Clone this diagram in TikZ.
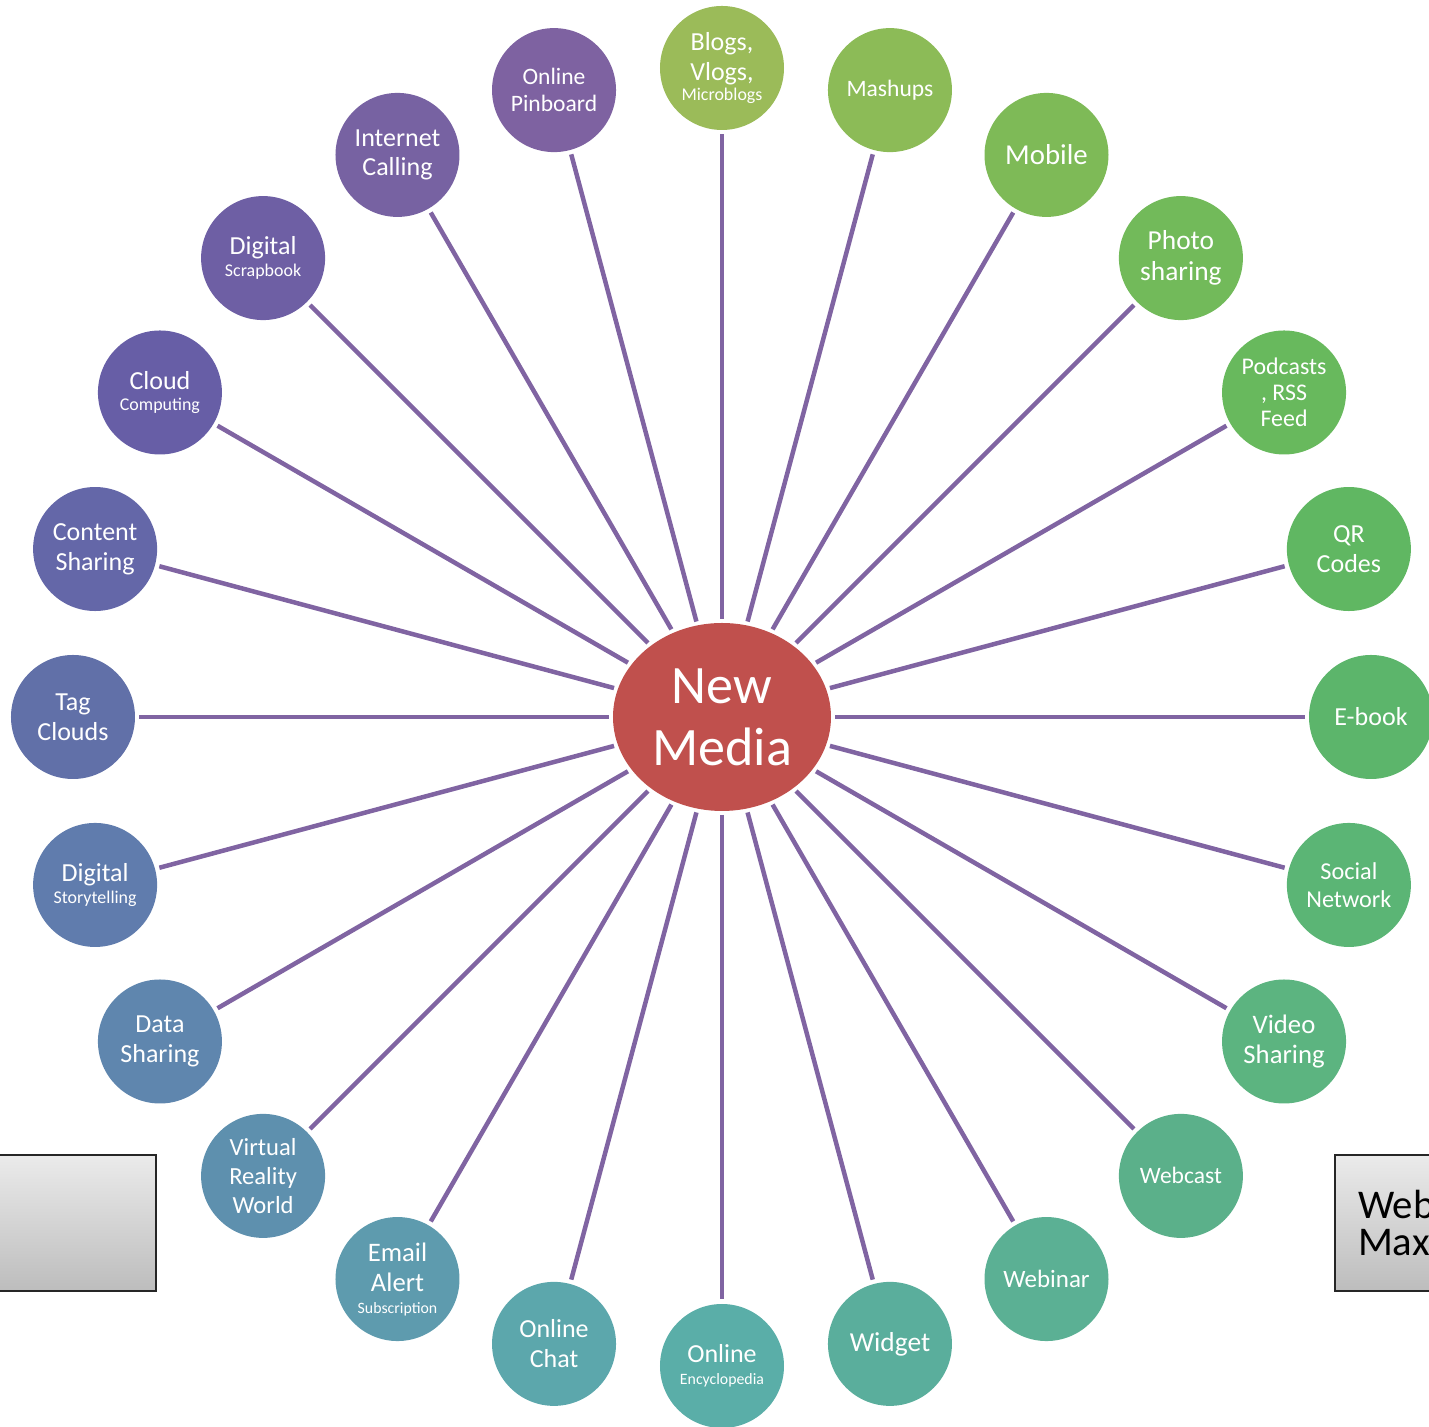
\documentclass[tikz,border=0pt]{standalone}
\usepackage{fontspec}
\setmainfont{Carlito}
\usetikzlibrary{shapes.geometric}

\definecolor{spokecol}{HTML}{8064A2}
\definecolor{hubcol}{HTML}{C0504D}
\definecolor{cA}{HTML}{9BBB59}
\definecolor{cB}{HTML}{8CBB57}
\definecolor{cC}{HTML}{7EBA57}
\definecolor{cD}{HTML}{72BA5A}
\definecolor{cE}{HTML}{68B95D}
\definecolor{cF}{HTML}{60B762}
\definecolor{cG}{HTML}{5CB56B}
\definecolor{cH}{HTML}{5BB575}
\definecolor{cI}{HTML}{5CB480}
\definecolor{cJ}{HTML}{5BB08A}
\definecolor{cK}{HTML}{5BB094}
\definecolor{cL}{HTML}{5AAE9C}
\definecolor{cM}{HTML}{5AAEA8}
\definecolor{cN}{HTML}{5CA7AC}
\definecolor{cO}{HTML}{5E9BAE}
\definecolor{cP}{HTML}{5E90AE}
\definecolor{cQ}{HTML}{5F86AE}
\definecolor{cR}{HTML}{607CAD}
\definecolor{cS}{HTML}{6170A8}
\definecolor{cT}{HTML}{6467A8}
\definecolor{cU}{HTML}{675EA6}
\definecolor{cV}{HTML}{6E5FA4}
\definecolor{cW}{HTML}{7762A2}
\definecolor{cX}{HTML}{7E62A1}

\newcommand{\smalltxt}[1]{{\fontsize{5.1}{5.9}\selectfont #1}}
\newcommand{\tinytxt}[1]{{\fontsize{4.5}{5.3}\selectfont #1}}

\begin{document}
\begin{tikzpicture}
\tikzstyle{leaf} = [circle, minimum size = 1.24cm, inner sep = 0pt, outer sep = 0.045cm, text = white, align = center, font = \fontsize{7.4}{8.5}\selectfont]
\tikzstyle{hub} = [ellipse, fill = hubcol, minimum width = 2.18cm, minimum height = 1.88cm, inner sep = 0pt, outer sep = 0.04cm, text = white, align = center, font = \fontsize{15.4}{17.6}\selectfont]
\tikzstyle{spoke} = [spokecol, line width = 0.045cm]
\tikzstyle{greybox} = [rectangle, draw = black!85, line width = 0.02cm, top color = black!8, bottom color = black!26]
\useasboundingbox (-7.22, -7.10) rectangle (7.07, 7.17);
\clip (-7.22, -7.10) rectangle (7.07, 7.17);
% -----------------------------------
% centre
\node[hub] (nm) at (0, 0) {New\\Media};

% -----------------------------------
% right half
\node[leaf, fill = cA] (blogs) at (90:6.49) {Blogs,\\Vlogs,\\[-2.6pt]\smalltxt{Microblogs}};
\node[leaf, fill = cB, font = \fontsize{6.7}{7.7}\selectfont] (mashups) at (75:6.49) {Mashups};
\node[leaf, fill = cC, font = \fontsize{8.2}{9.4}\selectfont] (mobile) at (60:6.49) {Mobile};
\node[leaf, fill = cD, font = \fontsize{7.8}{8.9}\selectfont] (photo) at (45:6.49) {Photo\\sharing};
\node[leaf, fill = cE, font = \fontsize{6.8}{7.4}\selectfont] (podcasts) at (30:6.49) {Podcasts\\, RSS\\Feed};
\node[leaf, fill = cF] (qr) at (15:6.49) {QR\\Codes};
\node[leaf, fill = cG] (ebook) at (0:6.49) {E-book};
\node[leaf, fill = cH, font = \fontsize{6.9}{7.9}\selectfont] (social) at (-15:6.49) {Social\\Network};
\node[leaf, fill = cI, font = \fontsize{7.6}{8.6}\selectfont] (video) at (-30:6.49) {Video\\Sharing};
\node[leaf, fill = cJ, font = \fontsize{6.7}{7.7}\selectfont] (webcast) at (-45:6.49) {Webcast};
\node[leaf, fill = cK, font = \fontsize{7.1}{8.1}\selectfont] (webinar) at (-60:6.49) {Webinar};
\node[leaf, fill = cL, font = \fontsize{7.8}{8.9}\selectfont] (widget) at (-75:6.49) {Widget};

% -----------------------------------
% left half
\node[leaf, fill = cM] (encyclo) at (-90:6.49) {Online\\[-2.3pt]\tinytxt{Encyclopedia}};
\node[leaf, fill = cN] (chat) at (-105:6.49) {Online\\Chat};
\node[leaf, fill = cO, font = \fontsize{7.6}{8.7}\selectfont] (email) at (-120:6.49) {Email\\Alert\\[-2.6pt]\tinytxt{Subscription}};
\node[leaf, fill = cP, font = \fontsize{7.0}{8.3}\selectfont] (vr) at (-135:6.49) {Virtual\\Reality\\World};
\node[leaf, fill = cQ] (data) at (-150:6.49) {Data\\Sharing};
\node[leaf, fill = cR] (story) at (-165:6.49) {Digital\\[-2.3pt]\smalltxt{Storytelling}};
\node[leaf, fill = cS] (tag) at (180:6.49) {Tag\\Clouds};
\node[leaf, fill = cT] (content) at (165:6.49) {Content\\Sharing};
\node[leaf, fill = cU] (cloud) at (150:6.49) {Cloud\\[-2.3pt]\smalltxt{Computing}};
\node[leaf, fill = cV] (scrap) at (135:6.49) {Digital\\[-2.3pt]\smalltxt{Scrapbook}};
\node[leaf, fill = cW] (calling) at (120:6.49) {Internet\\Calling};
\node[leaf, fill = cX, font = \fontsize{6.7}{7.7}\selectfont] (pinboard) at (105:6.49) {Online\\Pinboard};

% -----------------------------------
% spokes
\draw[spoke] (nm)--(blogs);
\draw[spoke] (nm)--(mashups);
\draw[spoke] (nm)--(mobile);
\draw[spoke] (nm)--(photo);
\draw[spoke] (nm)--(podcasts);
\draw[spoke] (nm)--(qr);
\draw[spoke] (nm)--(ebook);
\draw[spoke] (nm)--(social);
\draw[spoke] (nm)--(video);
\draw[spoke] (nm)--(webcast);
\draw[spoke] (nm)--(webinar);
\draw[spoke] (nm)--(widget);
\draw[spoke] (nm)--(encyclo);
\draw[spoke] (nm)--(chat);
\draw[spoke] (nm)--(email);
\draw[spoke] (nm)--(vr);
\draw[spoke] (nm)--(data);
\draw[spoke] (nm)--(story);
\draw[spoke] (nm)--(tag);
\draw[spoke] (nm)--(content);
\draw[spoke] (nm)--(cloud);
\draw[spoke] (nm)--(scrap);
\draw[spoke] (nm)--(calling);
\draw[spoke] (nm)--(pinboard);

% -----------------------------------
% boxes at the edges
\node[greybox, minimum width = 1.74cm, minimum height = 1.36cm] (lbox) at (-6.53, -5.06) {};
\node[greybox, minimum height = 1.36cm, text width = 0.91cm, inner xsep = 0.23cm, align = left, font = \fontsize{11.6}{10.8}\selectfont] (rbox) at (6.815, -5.06) {Web\\Max};
% -----------------------------------
\end{tikzpicture}
\end{document}
